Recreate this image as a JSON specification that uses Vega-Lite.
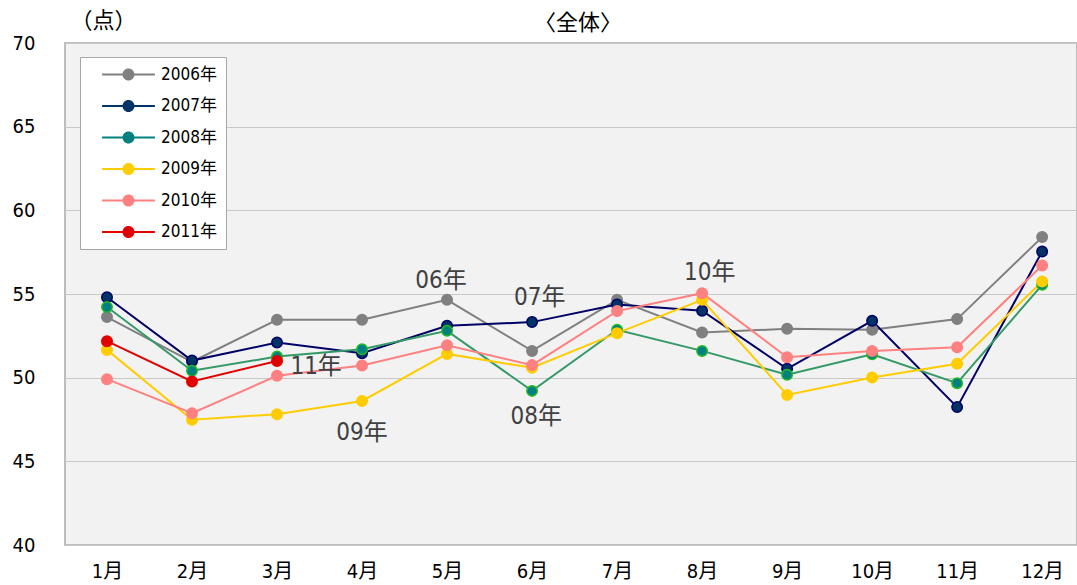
{
  "$schema": "https://vega.github.io/schema/vega-lite/v6.json",
  "width": 1012,
  "height": 502,
  "autosize": {"type": "none"},
  "padding": {"left": 65, "top": 43, "right": 0, "bottom": 40},
  "background": "white",
  "config": {
    "view": {"fill": "#f2f2f2", "stroke": "#bdbdbd", "strokeWidth": 2},
    "font": "Liberation Sans Narrow, DejaVu Sans Condensed, Noto Sans CJK JP"
  },
  "title": {
    "text": "〈全体〉",
    "anchor": "middle",
    "dx": 7,
    "dy": 38,
    "offset": 12,
    "fontSize": 22,
    "fontWeight": "normal",
    "color": "#000000",
    "font": "Noto Sans CJK JP"
  },
  "datasets": {
    "series": [
      {"year": "2006年", "m": 1, "v": 53.62}, {"year": "2006年", "m": 2, "v": 50.95}, {"year": "2006年", "m": 3, "v": 53.46}, {"year": "2006年", "m": 4, "v": 53.46}, {"year": "2006年", "m": 5, "v": 54.65}, {"year": "2006年", "m": 6, "v": 51.6}, {"year": "2006年", "m": 7, "v": 54.65}, {"year": "2006年", "m": 8, "v": 52.7}, {"year": "2006年", "m": 9, "v": 52.92}, {"year": "2006年", "m": 10, "v": 52.86}, {"year": "2006年", "m": 11, "v": 53.5}, {"year": "2006年", "m": 12, "v": 58.4},
      {"year": "2007年", "m": 1, "v": 54.81}, {"year": "2007年", "m": 2, "v": 51.02}, {"year": "2007年", "m": 3, "v": 52.1}, {"year": "2007年", "m": 4, "v": 51.46}, {"year": "2007年", "m": 5, "v": 53.1}, {"year": "2007年", "m": 6, "v": 53.32}, {"year": "2007年", "m": 7, "v": 54.37}, {"year": "2007年", "m": 8, "v": 54.0}, {"year": "2007年", "m": 9, "v": 50.53}, {"year": "2007年", "m": 10, "v": 53.4}, {"year": "2007年", "m": 11, "v": 48.24}, {"year": "2007年", "m": 12, "v": 57.54},
      {"year": "2008年", "m": 1, "v": 54.22}, {"year": "2008年", "m": 2, "v": 50.41}, {"year": "2008年", "m": 3, "v": 51.26}, {"year": "2008年", "m": 4, "v": 51.7}, {"year": "2008年", "m": 5, "v": 52.8}, {"year": "2008年", "m": 6, "v": 49.21}, {"year": "2008年", "m": 7, "v": 52.86}, {"year": "2008年", "m": 8, "v": 51.6}, {"year": "2008年", "m": 9, "v": 50.17}, {"year": "2008年", "m": 10, "v": 51.4}, {"year": "2008年", "m": 11, "v": 49.67}, {"year": "2008年", "m": 12, "v": 55.55},
      {"year": "2009年", "m": 1, "v": 51.66}, {"year": "2009年", "m": 2, "v": 47.48}, {"year": "2009年", "m": 3, "v": 47.82}, {"year": "2009年", "m": 4, "v": 48.61}, {"year": "2009年", "m": 5, "v": 51.42}, {"year": "2009年", "m": 6, "v": 50.59}, {"year": "2009年", "m": 7, "v": 52.66}, {"year": "2009年", "m": 8, "v": 54.65}, {"year": "2009年", "m": 9, "v": 48.97}, {"year": "2009年", "m": 10, "v": 50.01}, {"year": "2009年", "m": 11, "v": 50.83}, {"year": "2009年", "m": 12, "v": 55.75},
      {"year": "2010年", "m": 1, "v": 49.91}, {"year": "2010年", "m": 2, "v": 47.88}, {"year": "2010年", "m": 3, "v": 50.11}, {"year": "2010年", "m": 4, "v": 50.73}, {"year": "2010年", "m": 5, "v": 51.94}, {"year": "2010年", "m": 6, "v": 50.75}, {"year": "2010年", "m": 7, "v": 53.98}, {"year": "2010年", "m": 8, "v": 55.05}, {"year": "2010年", "m": 9, "v": 51.22}, {"year": "2010年", "m": 10, "v": 51.6}, {"year": "2010年", "m": 11, "v": 51.82}, {"year": "2010年", "m": 12, "v": 56.7},
      {"year": "2011年", "m": 1, "v": 52.18}, {"year": "2011年", "m": 2, "v": 49.77}, {"year": "2011年", "m": 3, "v": 51.0}
    ],
    "notes": [
      {"label": "06年", "m": 4.93, "v": 55.79},
      {"label": "07年", "m": 6.09, "v": 54.77},
      {"label": "10年", "m": 8.09, "v": 56.27},
      {"label": "11年", "m": 3.46, "v": 50.65},
      {"label": "09年", "m": 4.0, "v": 46.7},
      {"label": "08年", "m": 6.05, "v": 47.66}
    ]
  },
  "layer": [
    {
      "data": {"name": "series"},
      "mark": {"type": "line", "strokeWidth": 2},
      "encoding": {
        "x": {
          "field": "m", "type": "quantitative",
          "scale": {"domain": [0.506, 12.41], "nice": false, "zero": false},
          "axis": {
            "values": [1, 2, 3, 4, 5, 6, 7, 8, 9, 10, 11, 12],
            "labelExpr": "datum.value + '月'",
            "grid": false, "ticks": false, "domain": false,
            "labelPadding": 16, "labelFontSize": 20, "labelColor": "#000000",
            "labelFont": "Liberation Sans Narrow, DejaVu Sans Condensed, Noto Sans CJK JP",
            "title": null
          }
        },
        "y": {
          "field": "v", "type": "quantitative",
          "scale": {"domain": [40, 70], "nice": false, "zero": false},
          "axis": {
            "values": [40, 45, 50, 55, 60, 65, 70],
            "grid": true, "gridColor": "#c8c8c8", "gridWidth": 1,
            "ticks": false, "domain": false,
            "labelPadding": 30, "labelFontSize": 20, "labelColor": "#000000",
            "labelFont": "Liberation Sans Narrow, DejaVu Sans Condensed, Noto Sans CJK JP",
            "title": "（点）", "titleAngle": 0, "titleX": 38, "titleY": -11,
            "titleFontSize": 22, "titleFontWeight": "normal", "titleColor": "#000000",
            "titleFont": "Noto Sans CJK JP", "titleAlign": "center"
          }
        },
        "color": {
          "field": "year", "type": "nominal",
          "scale": {
            "domain": ["2006年", "2007年", "2008年", "2009年", "2010年", "2011年"],
            "range": ["#808080", "#000066", "#339966", "#ffcc00", "#ff8080", "#e00000"]
          },
          "legend": {
            "title": null,
            "orient": "none", "legendX": 15, "legendY": 14,
            "fillColor": "#ffffff", "strokeColor": "#a6a6a6", "padding": 9,
            "symbolType": "M-4.4,-0.15H4.4V0.15H-4.4Z M-1,0A1,1 0 1,1 1,0A1,1 0 1,1 -1,0Z",
            "symbolSize": 144, "symbolOffset": 31, "labelOffset": 24,
            "symbolStrokeWidth": 0,
            "rowPadding": 13.5,
            "labelFontSize": 17, "labelColor": "#000000",
            "labelFont": "Liberation Sans Narrow, DejaVu Sans Condensed, Noto Sans CJK JP",
            "encode": {
              "symbols": {"update": {"fill": {"scale": "color", "field": "value"}, "strokeWidth": {"value": 0}, "opacity": {"value": 1}}}
            }
          }
        }
      }
    },
    {
      "data": {"name": "series"},
      "mark": {"type": "point", "filled": true, "size": 110, "strokeWidth": 1.5, "opacity": 1},
      "encoding": {
        "x": {"field": "m", "type": "quantitative"},
        "y": {"field": "v", "type": "quantitative"},
        "fill": {
          "field": "year", "type": "nominal",
          "scale": {
            "domain": ["2006年", "2007年", "2008年", "2009年", "2010年", "2011年"],
            "range": ["#808080", "#003366", "#008080", "#ffcc00", "#ff8080", "#e00000"]
          },
          "legend": null
        },
        "stroke": {
          "field": "year", "type": "nominal",
          "scale": {
            "domain": ["2006年", "2007年", "2008年", "2009年", "2010年", "2011年"],
            "range": ["#808080", "#000066", "#22bb22", "#ffcc00", "#ff8080", "#e00000"]
          },
          "legend": null
        }
      }
    },
    {
      "data": {"name": "notes"},
      "mark": {"type": "text", "fontSize": 24, "color": "#404040", "align": "center", "baseline": "middle",
               "font": "Liberation Sans Narrow, DejaVu Sans Condensed, Noto Sans CJK JP"},
      "encoding": {
        "x": {"field": "m", "type": "quantitative"},
        "y": {"field": "v", "type": "quantitative"},
        "text": {"field": "label", "type": "nominal"}
      }
    }
  ]
}
